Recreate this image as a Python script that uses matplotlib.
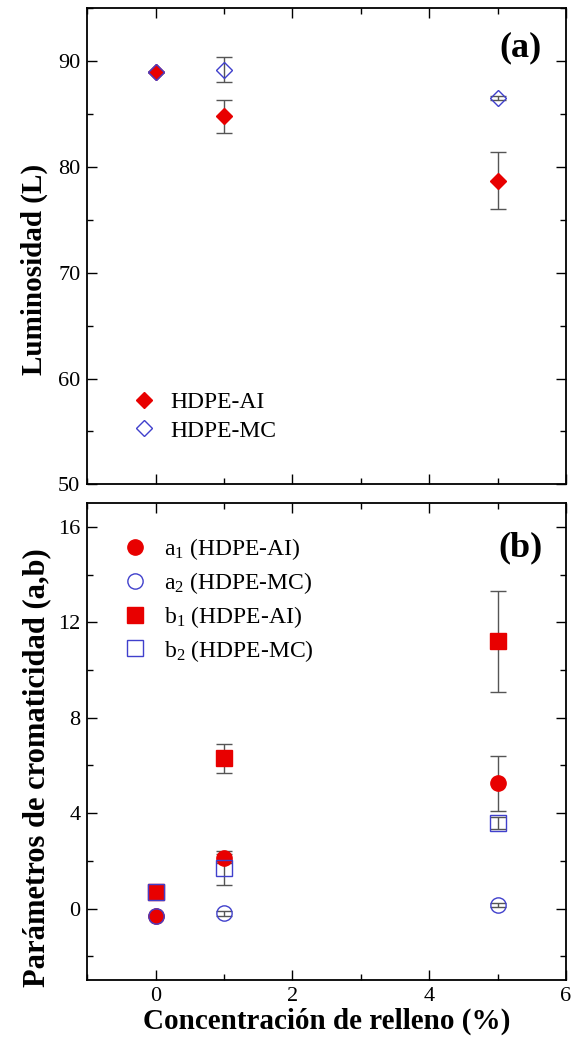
import matplotlib
matplotlib.use("Agg")
import matplotlib.pyplot as plt
from matplotlib.ticker import MultipleLocator

plt.rcParams['font.family'] = ['Liberation Serif', 'DejaVu Serif']
plt.rcParams['mathtext.fontset'] = 'custom'
plt.rcParams['mathtext.rm'] = 'Liberation Serif'
plt.rcParams['mathtext.it'] = 'Liberation Serif:italic'

# Data
conc = [0, 1, 5]

# (a) Luminosity
L_ai = [89.0, 84.8, 78.7]
L_ai_err = [0.0, 1.55, 2.7]
L_mc = [89.0, 89.2, 86.5]
L_mc_err = [0.0, 1.2, 0.2]

# (b) chromaticity
a1 = [-0.3, 2.1, 5.25]
a1_err = [0.0, 0.2, 1.15]
a2 = [-0.3, -0.2, 0.15]
a2_err = [0.0, 0.1, 0.1]
b1 = [0.7, 6.3, 11.2]
b1_err = [0.0, 0.6, 2.1]
b2 = [0.7, 1.7, 3.6]
b2_err = [0.0, 0.7, 0.25]

red = '#e80000'
blue = '#4040cc'
ecol = '#555555'

fig = plt.figure(figsize=(5.71, 10.46), dpi=100)
ax1 = fig.add_axes([0.153, 0.537, 0.838, 0.455])
ax2 = fig.add_axes([0.153, 0.063, 0.838, 0.456])

eb = dict(ecolor=ecol, elinewidth=1.0, capsize=6, capthick=1.0, linestyle='none')

# panel (a)
ax1.errorbar(conc, L_ai, yerr=L_ai_err, marker='D', ms=8.5, mfc=red, mec=red,
             label='HDPE-AI', **eb)
ax1.errorbar(conc, L_mc, yerr=L_mc_err, marker='D', ms=8.5, mfc='none', mec=blue,
             mew=1.0, label='HDPE-MC', **eb)
ax1.set_xlim(-1, 6)
ax1.set_ylim(50, 95)
ax1.set_ylabel('Luminosidad (L)', fontsize=21, fontweight='bold')
ax1.yaxis.set_label_coords(-0.083, 0.452)
ax1.text(0.905, 0.918, '(a)', transform=ax1.transAxes, fontsize=26,
         fontweight='bold', ha='center', va='center')
h, l = ax1.get_legend_handles_labels()
h = [x[0] for x in h]
ax1.legend(h, l, loc='lower left', bbox_to_anchor=(0.05, 0.07), frameon=False,
           fontsize=17, handletextpad=0.1, labelspacing=0.3, borderaxespad=0)
ax1.yaxis.set_major_locator(MultipleLocator(10))
ax1.yaxis.set_minor_locator(MultipleLocator(5))
ax1.xaxis.set_major_locator(MultipleLocator(2))
ax1.xaxis.set_minor_locator(MultipleLocator(1))
ax1.tick_params(labelbottom=False)

# panel (b)
ax2.errorbar(conc, a1, yerr=a1_err, marker='o', ms=11, mfc=red, mec=red,
             label='a$_1$ (HDPE-AI)', **eb)
ax2.errorbar(conc, a2, yerr=a2_err, marker='o', ms=11, mfc='none', mec=blue,
             mew=1.0, label='a$_2$ (HDPE-MC)', **eb)
ax2.errorbar(conc, b1, yerr=b1_err, marker='s', ms=11, mfc=red, mec=red,
             label='b$_1$ (HDPE-AI)', **eb)
ax2.errorbar(conc, b2, yerr=b2_err, marker='s', ms=11, mfc='none', mec=blue,
             mew=1.0, label='b$_2$ (HDPE-MC)', **eb)
ax2.set_xlim(-1, 6)
ax2.set_ylim(-3, 17)
ax2.set_ylabel('Parámetros de cromaticidad (a,b)', fontsize=22,
               fontweight='bold')
ax2.yaxis.set_label_coords(-0.075, 0.445)
ax2.set_xlabel('Concentración de relleno (%)', fontsize=21, fontweight='bold',
               labelpad=1)
ax2.text(0.905, 0.906, '(b)', transform=ax2.transAxes, fontsize=26,
         fontweight='bold', ha='center', va='center')
h, l = ax2.get_legend_handles_labels()
h = [x[0] for x in h]
ax2.legend(h, l, loc='upper left', bbox_to_anchor=(0.03, 0.95), frameon=False,
           fontsize=17, handletextpad=0.25, labelspacing=0.33, borderaxespad=0)
ax2.yaxis.set_major_locator(MultipleLocator(4))
ax2.yaxis.set_minor_locator(MultipleLocator(2))
ax2.xaxis.set_major_locator(MultipleLocator(2))
ax2.xaxis.set_minor_locator(MultipleLocator(1))

for ax in (ax1, ax2):
    ax.tick_params(which='both', direction='in', top=True, right=True,
                   labelsize=16, width=1.0, pad=5)
    ax.tick_params(which='major', length=7)
    ax.tick_params(which='minor', length=4)
    for s in ax.spines.values():
        s.set_linewidth(1.3)

fig.savefig('out.png', dpi=100)
